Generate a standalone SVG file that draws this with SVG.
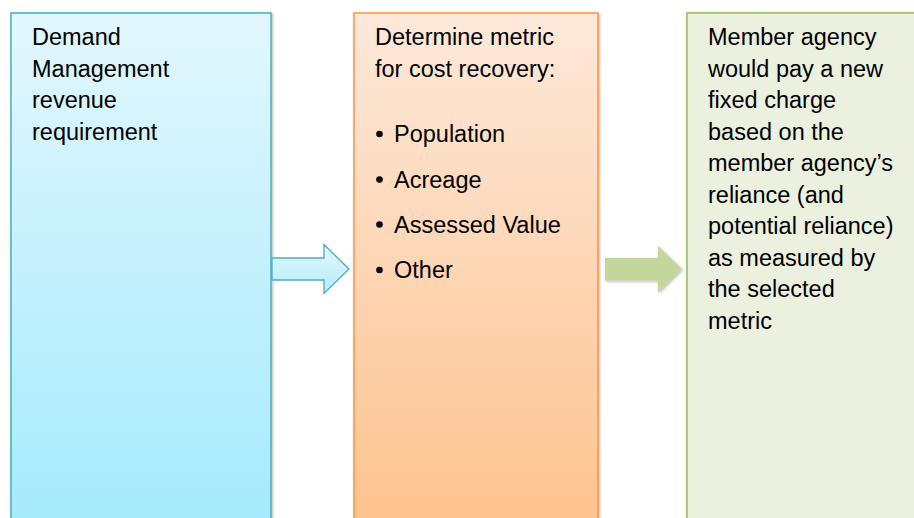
<svg xmlns="http://www.w3.org/2000/svg" width="914" height="518" viewBox="0 0 914 518">
<style>
text{font-family:"Liberation Sans",Arial,sans-serif;font-size:23.5px;fill:#000}
</style>
<defs>
<linearGradient id="gb" x1="0" y1="0" x2="0" y2="1"><stop offset="0" stop-color="#e2f7fd"/><stop offset="1" stop-color="#a4eafd"/></linearGradient>
<linearGradient id="go" x1="0" y1="0" x2="0" y2="1"><stop offset="0" stop-color="#fde9da"/><stop offset="1" stop-color="#fdc28e"/></linearGradient>
<linearGradient id="ga" x1="0" y1="0" x2="0" y2="1"><stop offset="0" stop-color="#e4f6fd"/><stop offset="1" stop-color="#b4ecfb"/></linearGradient>
<filter id="sh" x="-10%" y="-10%" width="120%" height="120%"><feDropShadow dx="1" dy="1" stdDeviation="1.5" flood-color="#000" flood-opacity="0.3"/></filter>
</defs>
<g id="node-demand">
<rect x="11" y="13" width="260" height="520" fill="url(#gb)" stroke="#4bacc6" stroke-width="1.5" filter="url(#sh)"/>
<text x="32" y="45">Demand</text>
<text x="32" y="76.5">Management</text>
<text x="32" y="108">revenue</text>
<text x="32" y="139.5">requirement</text>
</g>
<g id="node-metric">
<rect x="354" y="13" width="244" height="520" fill="url(#go)" stroke="#f79646" stroke-width="1.5" filter="url(#sh)"/>
<text x="375" y="45">Determine metric</text>
<text x="375" y="76.5">for cost recovery:</text>
<circle cx="379.5" cy="134" r="3.3" fill="#000"/><text x="394" y="142">Population</text>
<circle cx="379.5" cy="179.5" r="3.3" fill="#000"/><text x="394" y="187.5">Acreage</text>
<circle cx="379.5" cy="224.5" r="3.3" fill="#000"/><text x="394" y="232.5">Assessed Value</text>
<circle cx="379.5" cy="270" r="3.3" fill="#000"/><text x="394" y="278">Other</text>
</g>
<g id="node-charge">
<rect x="687" y="13" width="240" height="520" fill="#ebf0df" stroke="#9bbb59" stroke-width="1.5" filter="url(#sh)"/>
<text x="708" y="45">Member agency</text>
<text x="708" y="76.5">would pay a new</text>
<text x="708" y="108">fixed charge</text>
<text x="708" y="139.5">based on the</text>
<text x="708" y="171">member agency’s</text>
<text x="708" y="202.5">reliance (and</text>
<text x="708" y="234">potential reliance)</text>
<text x="708" y="265.5">as measured by</text>
<text x="708" y="297">the selected</text>
<text x="708" y="328.5">metric</text>
</g>
<g id="connectors">
<path d="M272,258 L324,258 L324,244.5 L349,269 L324,293.5 L324,280 L272,280 Z" fill="url(#ga)" stroke="#4bacc6" stroke-width="1.3"/>
<path d="M605,258 L658,258 L658,246 L682,269 L658,292.5 L658,280.5 L605,280.5 Z" fill="#c3d69b" filter="url(#sh)"/>
</g>
</svg>
